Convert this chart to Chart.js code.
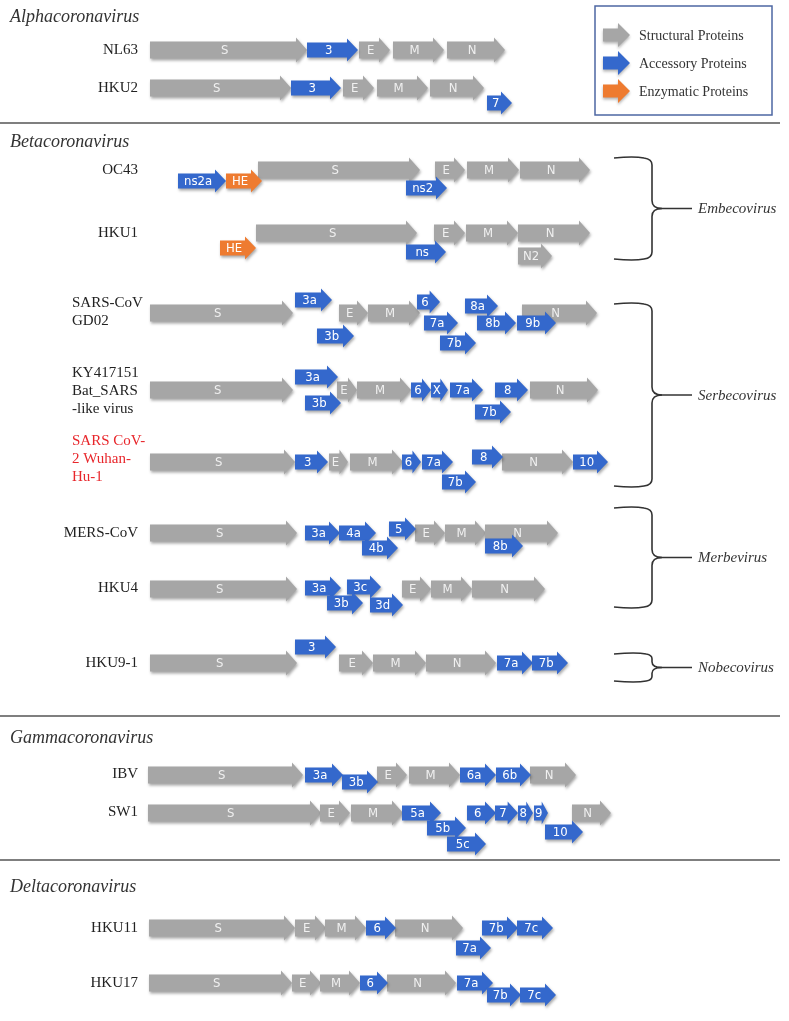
<!DOCTYPE html>
<html>
<head>
<meta charset="utf-8">
<title>Coronavirus genome organisation</title>
<script src="https://cdn.jsdelivr.net/npm/chart.js@4.4.1/dist/chart.umd.min.js"></script>
<style>
  body { margin: 0; background: #ffffff; }
  canvas { display: block; }
</style>
</head>
<body>
<canvas id="genomeChart" width="789" height="1021"></canvas>
<script>
// Gene arrows: [label, start, end, track position]
var structuralGenes = [
  ["S", 150, 307, 50], ["E", 359, 390, 50], ["M", 393, 444, 50], ["N", 447, 505, 50],
  ["S", 150, 291, 88], ["E", 343, 374, 88], ["M", 377, 428, 88], ["N", 430, 484, 88],
  ["S", 258, 420, 170], ["E", 435, 465, 170], ["M", 467, 519, 170], ["N", 520, 590, 170],
  ["S", 256, 417, 233], ["E", 434, 465, 233], ["M", 466, 518, 233], ["N", 518, 590, 233], ["N2", 518, 552, 256],
  ["S", 150, 293, 313], ["E", 339, 368, 313], ["M", 368, 420, 313], ["N", 522, 597, 313],
  ["S", 150, 293, 390], ["E", 337, 357, 390], ["M", 357, 411, 390], ["N", 530, 598, 390],
  ["S", 150, 295, 462], ["E", 329, 348, 462], ["M", 350, 403, 462], ["N", 502, 573, 462],
  ["S", 150, 297, 533], ["E", 415, 445, 533], ["M", 445, 486, 533], ["N", 485, 558, 533],
  ["S", 150, 297, 589], ["E", 402, 431, 589], ["M", 431, 472, 589], ["N", 472, 545, 589],
  ["S", 150, 297, 663], ["E", 339, 373, 663], ["M", 373, 426, 663], ["N", 426, 496, 663],
  ["S", 148, 303, 775], ["E", 377, 407, 775], ["M", 409, 460, 775], ["N", 530, 576, 775],
  ["S", 148, 321, 813], ["E", 320, 350, 813], ["M", 351, 403, 813], ["N", 572, 611, 813],
  ["S", 149, 295, 928], ["E", 295, 326, 928], ["M", 325, 366, 928], ["N", 395, 463, 928],
  ["S", 149, 292, 983], ["E", 292, 321, 983], ["M", 320, 360, 983], ["N", 387, 456, 983]
];

var accessoryGenes = [
  ["3", 307, 358, 50],
  ["3", 291, 341, 88], ["7", 487, 512, 103],
  ["ns2a", 178, 226, 181], ["ns2", 406, 447, 188],
  ["ns", 406, 446, 252],
  ["3a", 295, 332, 300], ["3b", 317, 354, 336], ["6", 417, 440, 302], ["7a", 424, 458, 323],
  ["7b", 440, 476, 343], ["8a", 465, 498, 306], ["8b", 477, 516, 323], ["9b", 517, 556, 323],
  ["3a", 295, 338, 377], ["3b", 305, 341, 403], ["6", 411, 431, 390], ["X", 431, 448, 390],
  ["7a", 450, 483, 390], ["8", 495, 528, 390], ["7b", 475, 511, 412],
  ["3", 295, 328, 462], ["6", 402, 421, 462], ["7a", 422, 453, 462], ["7b", 442, 476, 482],
  ["8", 472, 503, 457], ["10", 573, 608, 462],
  ["3a", 305, 340, 533], ["4a", 339, 376, 533], ["4b", 362, 398, 548], ["5", 389, 416, 529], ["8b", 485, 523, 546],
  ["3a", 305, 341, 588], ["3c", 347, 381, 587], ["3b", 327, 363, 603], ["3d", 370, 403, 605],
  ["3", 295, 336, 647], ["7a", 497, 533, 663], ["7b", 532, 568, 663],
  ["3a", 305, 343, 775], ["3b", 342, 378, 782], ["6a", 460, 496, 775], ["6b", 496, 531, 775],
  ["5a", 402, 441, 813], ["5b", 427, 466, 828], ["5c", 447, 486, 844], ["6", 467, 496, 813],
  ["7", 495, 518, 813], ["8", 518, 533, 813], ["9", 534, 548, 813], ["10", 545, 583, 832],
  ["6", 366, 396, 928], ["7a", 456, 491, 948], ["7b", 482, 518, 928], ["7c", 517, 553, 928],
  ["6", 360, 388, 983], ["7a", 457, 493, 983], ["7b", 487, 521, 995], ["7c", 520, 556, 995]
];

var enzymaticGenes = [
  ["HE", 226, 262, 181],
  ["HE", 220, 256, 248]
];

// Virus names: [lines, track position, colour]
var virusNames = [
  [["NL63"], 50, "#222"], [["HKU2"], 88, "#222"],
  [["OC43"], 170, "#222"], [["HKU1"], 233, "#222"],
  [["SARS-CoV", "GD02"], 312, "#222"],
  [["KY417151", "Bat_SARS", "-like virus"], 391, "#222"],
  [["SARS CoV-", "2 Wuhan-", "Hu-1"], 459, "#e8262b"],
  [["MERS-CoV"], 533, "#222"], [["HKU4"], 588, "#222"], [["HKU9-1"], 663, "#222"],
  [["IBV"], 774, "#222"], [["SW1"], 812, "#222"],
  [["HKU11"], 928, "#222"], [["HKU17"], 983, "#222"]
];

var genusTitles = [["Alphacoronavirus", 17], ["Betacoronavirus", 142], ["Gammacoronavirus", 738], ["Deltacoronavirus", 887]];
var separators = [123, 716, 860];
// Subgenus braces: [name, top, bottom]
var subgenera = [["Embecovirus", 157, 260], ["Serbecovirus", 303, 487], ["Merbevirus", 507, 608], ["Nobecovirus", 653, 682]];

var seriesNames = ["Structural Proteins", "Accessory Proteins", "Enzymatic Proteins"];
var seriesColors = ["#a6a6a6", "#3468cc", "#ee7b30"];

function toPoints(list) {
  return list.map(function(g) {
    return { x: [g[1], g[2]], y: g[3], name: g[0] };
  });
}

function arrowPath(ctx, x0, x1, yc, h, headH, headL) {
  var bh = h / 2;
  var hl = Math.min(headL, (x1 - x0) * 0.45);
  ctx.beginPath();
  ctx.moveTo(x0, yc - bh);
  ctx.lineTo(x1 - hl, yc - bh);
  ctx.lineTo(x1 - hl, yc - headH / 2);
  ctx.lineTo(x1, yc);
  ctx.lineTo(x1 - hl, yc + headH / 2);
  ctx.lineTo(x1 - hl, yc + bh);
  ctx.lineTo(x0, yc + bh);
  ctx.closePath();
  return hl;
}

function drawBrace(ctx, x0, x1, top, bottom, tipEnd) {
  var mid = (top + bottom) / 2;
  var r = Math.min(8, (bottom - top) / 5);
  ctx.beginPath();
  ctx.moveTo(x0, top + 1);
  ctx.quadraticCurveTo(x1 - r - 10, top - 1, x1 - r, top + 1);
  ctx.quadraticCurveTo(x1, top + 2, x1, top + r);
  ctx.lineTo(x1, mid - r);
  ctx.quadraticCurveTo(x1, mid, x1 + 10, mid);
  ctx.quadraticCurveTo(x1, mid, x1, mid + r);
  ctx.lineTo(x1, bottom - r);
  ctx.quadraticCurveTo(x1, bottom - 2, x1 - r, bottom - 1);
  ctx.quadraticCurveTo(x1 - r - 10, bottom + 1, x0, bottom - 1);
  ctx.stroke();
  ctx.beginPath();
  ctx.moveTo(x1 + 6, mid);
  ctx.lineTo(tipEnd, mid);
  ctx.stroke();
}

var genomePlugin = {
  id: "genomeArrows",
  afterDatasetsDraw: function(chart) {
    var ctx = chart.ctx;
    chart.data.datasets.forEach(function(ds, di) {
      var meta = chart.getDatasetMeta(di);
      meta.data.forEach(function(bar, i) {
        var p = bar.getProps(["x", "y", "base", "height"], true);
        ctx.save();
        ctx.shadowColor = "rgba(0,0,0,0.35)";
        ctx.shadowBlur = 3;
        ctx.shadowOffsetX = 1;
        ctx.shadowOffsetY = 2;
        ctx.fillStyle = ds.arrowColor;
        var hl = arrowPath(ctx, p.base, p.x, p.y, p.height, p.height + 8, 11);
        ctx.fill();
        ctx.restore();
        ctx.save();
        ctx.fillStyle = ds.textColor;
        ctx.font = '13px "Liberation Sans Narrow", "DejaVu Sans Condensed", sans-serif';
        ctx.textAlign = "center";
        ctx.textBaseline = "middle";
        ctx.fillText(ds.data[i].name, (p.base + p.x - hl) / 2 + hl * 0.15, p.y + 1);
        ctx.restore();
      });
    });
  },
  afterDraw: function(chart) {
    var ctx = chart.ctx;
    var xs = chart.scales.x, ys = chart.scales.y;
    ctx.save();

    // separators
    ctx.strokeStyle = "#555";
    ctx.lineWidth = 1.5;
    separators.forEach(function(v) {
      var y = ys.getPixelForValue(v);
      ctx.beginPath();
      ctx.moveTo(xs.getPixelForValue(0), y);
      ctx.lineTo(xs.getPixelForValue(780), y);
      ctx.stroke();
    });

    // genus titles
    ctx.fillStyle = "#333";
    ctx.font = 'italic 18px "Liberation Serif", serif';
    ctx.textBaseline = "middle";
    ctx.textAlign = "left";
    genusTitles.forEach(function(t) {
      ctx.fillText(t[0], xs.getPixelForValue(10), ys.getPixelForValue(t[1]));
    });

    // virus names
    ctx.font = '15px "Liberation Serif", serif';
    virusNames.forEach(function(v) {
      ctx.fillStyle = v[2];
      var lines = v[0];
      if (lines.length === 1) {
        ctx.textAlign = "right";
        ctx.fillText(lines[0], xs.getPixelForValue(138), ys.getPixelForValue(v[1]));
      } else {
        ctx.textAlign = "left";
        var lh = 18;
        var y0 = v[1] - (lines.length - 1) * lh / 2;
        lines.forEach(function(line, k) {
          ctx.fillText(line, xs.getPixelForValue(72), ys.getPixelForValue(y0 + k * lh));
        });
      }
    });

    // subgenus braces
    ctx.strokeStyle = "#333";
    ctx.lineWidth = 1.6;
    ctx.fillStyle = "#333";
    ctx.font = 'italic 15px "Liberation Serif", serif';
    ctx.textAlign = "left";
    subgenera.forEach(function(b) {
      var top = ys.getPixelForValue(b[1]), bottom = ys.getPixelForValue(b[2]);
      drawBrace(ctx, xs.getPixelForValue(614), xs.getPixelForValue(652), top, bottom, xs.getPixelForValue(692));
      ctx.fillText(b[0], xs.getPixelForValue(698), (top + bottom) / 2 + 1);
    });

    // legend box
    var lx0 = xs.getPixelForValue(595), lx1 = xs.getPixelForValue(772);
    var ly0 = ys.getPixelForValue(6), ly1 = ys.getPixelForValue(115);
    ctx.strokeStyle = "#4d67a3";
    ctx.lineWidth = 1.5;
    ctx.strokeRect(lx0, ly0, lx1 - lx0, ly1 - ly0);
    ctx.font = '14px "Liberation Serif", serif';
    var legendY = [35, 63, 91];
    chart.data.datasets.forEach(function(ds, di) {
      var y = ys.getPixelForValue(legendY[di]);
      ctx.save();
      ctx.shadowColor = "rgba(0,0,0,0.3)";
      ctx.shadowBlur = 3;
      ctx.shadowOffsetY = 2;
      ctx.fillStyle = ds.arrowColor;
      arrowPath(ctx, xs.getPixelForValue(603), xs.getPixelForValue(630), y, 13, 24, 12);
      ctx.fill();
      ctx.restore();
      ctx.fillStyle = "#333";
      ctx.textAlign = "left";
      ctx.fillText(ds.label, xs.getPixelForValue(639), y + 1);
    });
    ctx.restore();
  }
};

window.onload = function() {
  var ctx = document.getElementById("genomeChart").getContext("2d");
  var geneLists = [structuralGenes, accessoryGenes, enzymaticGenes];
  var thickness = [17, 15, 15];
  var textColors = ["#f0f0f0", "#ffffff", "#ffffff"];

  var datasets = seriesNames.map(function(name, i) {
    return {
      label: name,
      data: toPoints(geneLists[i]),
      backgroundColor: "rgba(0,0,0,0)",
      borderWidth: 0,
      barThickness: thickness[i],
      arrowColor: seriesColors[i],
      textColor: textColors[i]
    };
  });

  new Chart(ctx, {
    type: "bar",
    data: { datasets: datasets },
    options: {
      indexAxis: "y",
      responsive: false,
      animation: false,
      devicePixelRatio: 1,
      grouped: false,
      layout: { padding: 0 },
      plugins: {
        legend: { display: false },
        tooltip: { enabled: false }
      },
      scales: {
        x: { type: "linear", min: 0, max: 789, display: false, offset: false },
        y: { type: "linear", min: 0, max: 1021, reverse: true, display: false, offset: false }
      }
    },
    plugins: [genomePlugin]
  });
};
</script>
</body>
</html>
